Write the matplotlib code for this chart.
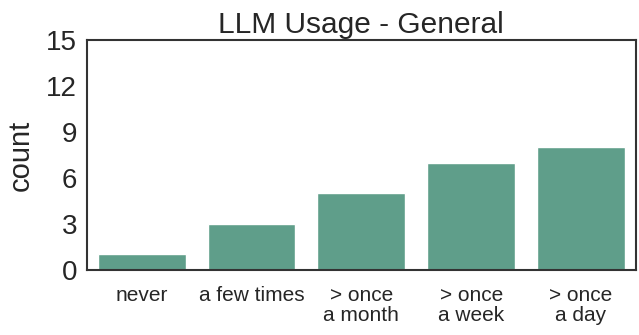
import matplotlib
matplotlib.use("Agg")
import matplotlib.pyplot as plt
import seaborn as sns

categories = ["never", "a few times", "> once\na month", "> once\na week", "> once\na day"]
counts = [1, 3, 5, 7, 8]
yticks = [0, 3, 6, 9, 12, 15]

BAR_COLOR = "#5f9e8a"

sns.set_style("white")
plt.rcParams['font.family'] = ['Liberation Sans', 'DejaVu Sans']

fig, ax = plt.subplots(figsize=(6.39, 3.35), dpi=100)
ax.bar(range(len(categories)), counts, width=0.8, color=BAR_COLOR)

ax.set_xlim(-0.5, len(categories) - 0.5)
ax.set_ylim(0, 15)
ax.set_yticks(yticks)
ax.set_xticks(range(len(categories)))
ax.set_xticklabels(categories, fontsize=15, linespacing=1.1)
ax.tick_params(axis='x', pad=8)
ax.tick_params(axis='y', labelsize=20)
ax.set_ylabel("count", fontsize=21, labelpad=8)
ax.set_title("LLM Usage - General", fontsize=21.5, pad=5)

for spine in ax.spines.values():
    spine.set_color("#333333")
    spine.set_linewidth(1.5)

fig.subplots_adjust(left=0.136, right=0.995, top=0.88, bottom=0.195)
fig.savefig("out.png", dpi=100)
